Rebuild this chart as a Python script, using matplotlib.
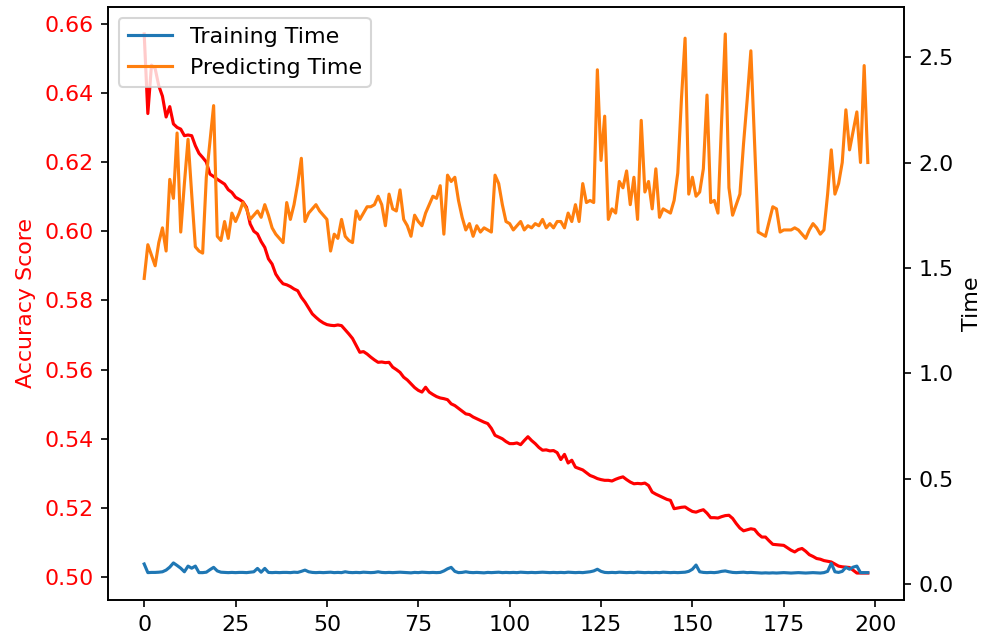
import numpy as np
import matplotlib
matplotlib.use("Agg")
import matplotlib.pyplot as plt

plt.rcParams["font.size"] = 10.6

# accuracy per iteration (left axis)
accuracy = [
    0.657, 0.634, 0.648, 0.647, 0.642, 0.639, 0.633, 0.636, 0.631, 0.630,
    0.6295, 0.6276, 0.6278, 0.6276, 0.6247, 0.6225, 0.6213, 0.620, 0.6165, 0.6158,
    0.615, 0.6143, 0.6136, 0.612, 0.6112, 0.6098, 0.6092, 0.6085, 0.6069, 0.6021,
    0.600, 0.5992, 0.597, 0.5953, 0.592, 0.5905, 0.5876, 0.586, 0.5848, 0.5845,
    0.584, 0.5833, 0.5828, 0.5809, 0.5795, 0.5778, 0.5761, 0.5751, 0.5742, 0.5735,
    0.573, 0.5728, 0.5727, 0.5729, 0.5727, 0.5715, 0.5703, 0.569, 0.567, 0.565,
    0.5652, 0.5645, 0.5636, 0.5628, 0.5621, 0.5622, 0.562, 0.5621, 0.5607, 0.560,
    0.5592, 0.5578, 0.557, 0.5559, 0.5548, 0.554, 0.5535, 0.5549, 0.5535, 0.5528,
    0.5522, 0.5518, 0.5516, 0.5513, 0.5501, 0.5496, 0.5488, 0.548, 0.5472, 0.547,
    0.5463, 0.5458, 0.5453, 0.5448, 0.5444, 0.543, 0.541, 0.5405, 0.540, 0.5392,
    0.5386, 0.5386, 0.5388, 0.5383, 0.5395, 0.5406, 0.5395, 0.5386, 0.5375, 0.5367,
    0.5368, 0.5365, 0.5366, 0.536, 0.534, 0.5355, 0.533, 0.5338, 0.5318, 0.5314,
    0.531, 0.5302, 0.5294, 0.529, 0.5285, 0.5282, 0.528, 0.528, 0.5278, 0.5283,
    0.5287, 0.529, 0.5282, 0.5275, 0.527, 0.5271, 0.527, 0.5272, 0.5265, 0.5246,
    0.524, 0.5235, 0.523, 0.5225, 0.5222, 0.5198, 0.520, 0.5202, 0.5203, 0.5196,
    0.519, 0.5188, 0.5192, 0.5195, 0.5185, 0.5172, 0.5172, 0.5171, 0.5175, 0.5178,
    0.5179, 0.517, 0.5155, 0.5142, 0.5134, 0.5137, 0.514, 0.5138, 0.5125, 0.5116,
    0.5116, 0.5105, 0.5095, 0.5094, 0.5093, 0.5092, 0.5085, 0.5078, 0.5073, 0.508,
    0.5083, 0.5075, 0.5065, 0.506, 0.5054, 0.5052, 0.5048, 0.5046, 0.5044, 0.5038,
    0.5032, 0.503, 0.5029, 0.5028, 0.502, 0.5012, 0.5012, 0.5012, 0.5012,
]

# training time per iteration (right axis)
train_time = [
    0.095, 0.054, 0.055, 0.055, 0.056, 0.058, 0.066, 0.080, 0.100, 0.088,
    0.075, 0.058, 0.085, 0.075, 0.085, 0.054, 0.054, 0.056, 0.068, 0.079,
    0.062, 0.056, 0.055, 0.054, 0.055, 0.054, 0.055, 0.055, 0.054, 0.056,
    0.058, 0.074, 0.056, 0.074, 0.055, 0.054, 0.055, 0.054, 0.055, 0.055,
    0.054, 0.056, 0.055, 0.060, 0.066, 0.058, 0.055, 0.054, 0.055, 0.054,
    0.055, 0.056, 0.054, 0.055, 0.054, 0.058, 0.055, 0.054, 0.055, 0.054,
    0.056, 0.055, 0.054, 0.055, 0.058, 0.055, 0.054, 0.055, 0.054, 0.055,
    0.056, 0.055, 0.054, 0.053, 0.055, 0.054, 0.056, 0.055, 0.054, 0.055,
    0.054, 0.055, 0.062, 0.072, 0.079, 0.060, 0.054, 0.055, 0.058, 0.055,
    0.054, 0.055, 0.054, 0.053, 0.055, 0.054, 0.055, 0.056, 0.054, 0.055,
    0.054, 0.055, 0.054, 0.056, 0.055, 0.054, 0.055, 0.054, 0.055, 0.056,
    0.055, 0.054, 0.055, 0.054, 0.055, 0.054, 0.056, 0.055, 0.054, 0.055,
    0.054, 0.056, 0.058, 0.062, 0.070, 0.060, 0.055, 0.054, 0.055, 0.054,
    0.056, 0.055, 0.054, 0.055, 0.054, 0.056, 0.055, 0.054, 0.055, 0.054,
    0.055, 0.054, 0.056, 0.055, 0.054, 0.055, 0.054, 0.055, 0.056, 0.060,
    0.070, 0.090, 0.058, 0.055, 0.054, 0.055, 0.054, 0.056, 0.060, 0.062,
    0.058, 0.055, 0.054, 0.055, 0.056, 0.054, 0.055, 0.054, 0.053, 0.052,
    0.053, 0.052, 0.053, 0.052, 0.053, 0.054, 0.053, 0.052, 0.053, 0.054,
    0.053, 0.052, 0.053, 0.054, 0.053, 0.052, 0.054, 0.060, 0.098, 0.058,
    0.055, 0.060, 0.079, 0.070, 0.080, 0.085, 0.054, 0.054, 0.054,
]

# predicting time per iteration (right axis)
predict_time = [
    1.45, 1.61, 1.56, 1.51, 1.62, 1.69, 1.58, 1.92, 1.83, 2.14,
    1.67, 1.90, 2.11, 1.85, 1.60, 1.58, 1.57, 1.93, 2.10, 2.27,
    1.65, 1.63, 1.72, 1.64, 1.76, 1.72, 1.76, 1.81, 1.78, 1.73,
    1.75, 1.77, 1.74, 1.80, 1.75, 1.69, 1.66, 1.64, 1.62, 1.81,
    1.73, 1.80, 1.90, 2.02, 1.72, 1.76, 1.78, 1.80, 1.77, 1.75,
    1.73, 1.58, 1.66, 1.64, 1.73, 1.65, 1.63, 1.62, 1.77, 1.73,
    1.76, 1.79, 1.79, 1.80, 1.84, 1.80, 1.70, 1.85, 1.78, 1.77,
    1.87, 1.73, 1.70, 1.65, 1.75, 1.72, 1.70, 1.76, 1.80, 1.84,
    1.83, 1.89, 1.66, 1.94, 1.91, 1.93, 1.82, 1.74, 1.68, 1.71,
    1.65, 1.70, 1.67, 1.69, 1.68, 1.67, 1.94, 1.90, 1.80, 1.72,
    1.71, 1.68, 1.70, 1.72, 1.68, 1.70, 1.69, 1.71, 1.70, 1.73,
    1.69, 1.71, 1.69, 1.72, 1.72, 1.69, 1.76, 1.72, 1.80, 1.72,
    1.90, 1.81, 1.82, 1.81, 2.44, 2.01, 2.22, 1.73, 1.78, 1.76,
    1.91, 1.88, 1.96, 1.80, 1.93, 1.73, 2.20, 1.86, 1.91, 1.78,
    1.97, 1.74, 1.78, 1.77, 1.76, 1.82, 1.95, 2.30, 2.59, 1.85,
    1.93, 1.84, 1.86, 1.97, 2.32, 1.81, 1.82, 1.76, 2.20, 2.61,
    1.88, 1.75, 1.80, 1.85, 2.09, 2.30, 2.53, 2.10, 1.67, 1.66,
    1.65, 1.72, 1.79, 1.78, 1.67, 1.68, 1.68, 1.68, 1.69, 1.68,
    1.66, 1.64, 1.68, 1.71, 1.69, 1.66, 1.68, 1.85, 2.06, 1.85,
    1.90, 2.00, 2.25, 2.06, 2.15, 2.24, 2.00, 2.46, 2.00,
]

iters = np.arange(len(accuracy))

fig, ax1 = plt.subplots(figsize=(984 / 150, 639 / 150), dpi=150)
fig.subplots_adjust(left=108 / 984, right=904 / 984, bottom=1 - 600 / 639, top=1 - 7 / 639)

ax1.plot(iters, accuracy, color="red")
ax1.set_ylabel("Accuracy Score", color="red")
ax1.tick_params(axis="y", labelcolor="red")
ax1.set_xticks([0, 25, 50, 75, 100, 125, 150, 175, 200])

ax2 = ax1.twinx()
ax2.plot(iters, train_time, label="Training Time")
ax2.plot(iters, predict_time, label="Predicting Time")
ax2.set_ylabel("Time")
ax2.legend(loc="upper left")

fig.savefig("out.png", dpi=150)
